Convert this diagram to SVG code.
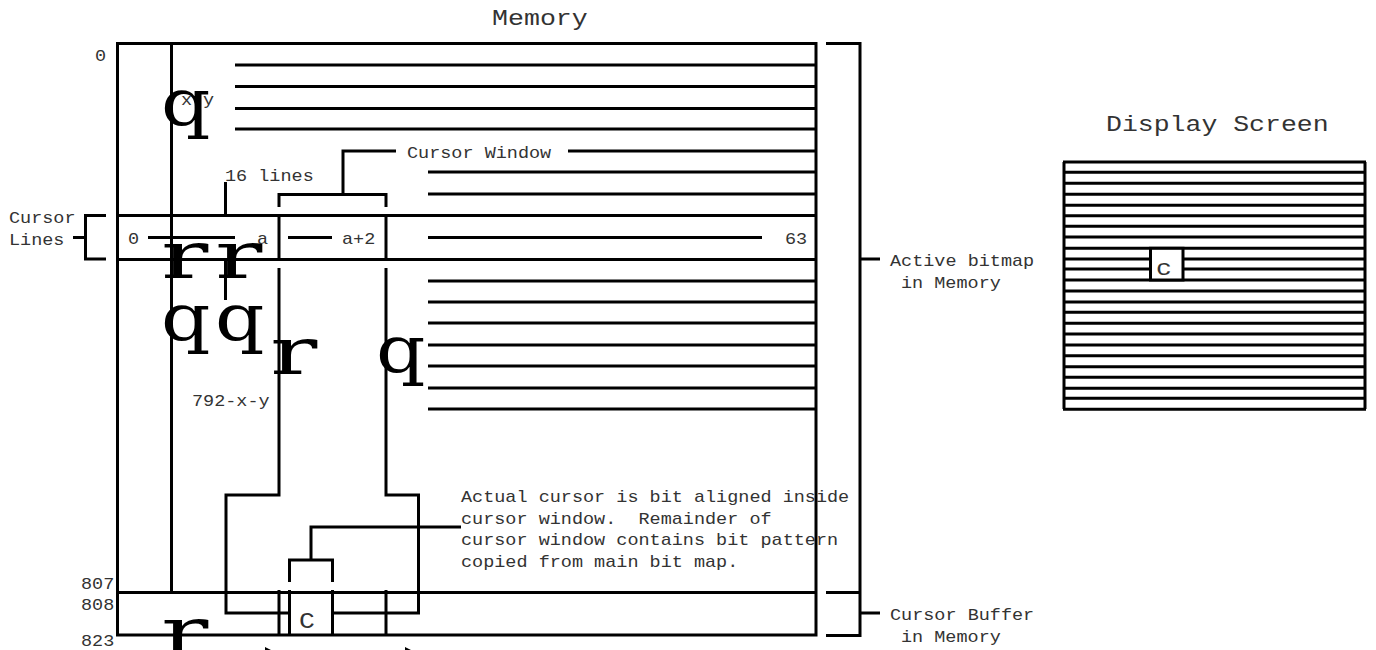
<svg xmlns="http://www.w3.org/2000/svg" width="1376" height="650" viewBox="0 0 1376 650">
<style>
.l{stroke:#000;stroke-width:3;fill:none}
text{font-family:"Liberation Mono",monospace;fill:#333;white-space:pre}
.s{font-size:16px}
.m{font-size:22px}
.b{font-family:"DejaVu Serif",serif;font-size:66px;fill:#000}
</style>
<rect width="1376" height="650" fill="#fff"/>
<g id="connectors">
<path class="l" d="M117.500 43.500H816V635H117.500Z"/>
<path class="l" d="M235 65H816M235 86.500H816M235 108.500H816M235 129H816M568 151H816M428 172H816M428 194H816M428 281H816M428 302H816M428 323H816M428 345H816M428 366H816M428 388H816M428 409H816"/>
<path class="l" d="M117 215.500H816M117 259.500H816M117 592.500H816"/>
<path class="l" d="M171.500 43V592M148 237.500H235M288 237.500H332M428 237.500H762"/>
<path class="l" d="M225.500 182V215M225.500 258V300M279 207V194.500H386V207M343 194V151H396"/>
<path class="l" d="M279 215V259M386 215V259M279 268V495H226V613H289M386 268V495H418.500V613H333"/>
<path class="l" d="M311 560V527H461M289.500 582V560H332.500V582M279 590V635M289.500 590V635M332.500 590V635M386 590V635"/>
<path class="l" d="M106 215.500H85.500V259H106M73 237.500H85.500"/>
<path class="l" d="M826 43.500H860V592M826 592.500H860V635.500H826M860 259H880M860 613H880"/>
<path d="M265 647V650H271ZM405 647V650H411Z" fill="#000"/>
</g>
<g id="screen">
<path class="l" d="M1064 162V409M1365 162V409M1063 162H1366M1063 172.300H1366M1063 183.300H1366M1063 194.300H1366M1063 205.300H1366M1063 215.700H1366M1063 226.300H1366M1063 237H1366M1063 248.300H1366M1063 259H1366M1063 269H1366M1063 280H1366M1063 291H1366M1063 302H1366M1063 312.300H1366M1063 323.300H1366M1063 334H1366M1063 345H1366M1063 355.700H1366M1063 366.700H1366M1063 377.300H1366M1063 388.300H1366M1063 398.300H1366M1063 409.300H1366"/>
<rect x="1150.500" y="248.300" width="32.500" height="31.700" fill="#fff" stroke="#000" stroke-width="3"/>
<text class="m" transform="translate(1156 275) scale(1.2 1)">c</text>
</g>
<g id="labels">
<text class="m" transform="translate(492 25) scale(1.21 1)">Memory</text>
<text class="m" transform="translate(1106 131) scale(1.205 1)">Display Screen</text>
<text class="s" transform="translate(95 61) scale(1.156 1)">0</text>
<text class="s" transform="translate(181 105) scale(1.156 1)">x</text>
<text class="s" transform="translate(203 105) scale(1.156 1)">y</text>
<text class="s" transform="translate(225 181) scale(1.156 1)">16 lines</text>
<text class="s" transform="translate(407 158) scale(1.156 1)">Cursor Window</text>
<text class="s" transform="translate(128 244) scale(1.156 1)">0</text>
<text class="s" transform="translate(257 244) scale(1.156 1)">a</text>
<text class="s" transform="translate(342 244) scale(1.156 1)">a+2</text>
<text class="s" transform="translate(785 244) scale(1.156 1)">63</text>
<text class="s" transform="translate(9 223) scale(1.156 1)">Cursor</text>
<text class="s" transform="translate(9 245) scale(1.156 1)">Lines</text>
<text class="s" transform="translate(192 406) scale(1.156 1)">792-x-y</text>
<text class="s" transform="translate(890 266) scale(1.156 1)">Active bitmap</text>
<text class="s" transform="translate(901 288) scale(1.156 1)">in Memory</text>
<text class="s" transform="translate(461 502) scale(1.156 1)">Actual cursor is bit aligned inside</text>
<text class="s" transform="translate(461 524) scale(1.156 1)">cursor window.  Remainder of</text>
<text class="s" transform="translate(461 545) scale(1.156 1)">cursor window contains bit pattern</text>
<text class="s" transform="translate(461 567) scale(1.156 1)">copied from main bit map.</text>
<text class="s" transform="translate(81 589) scale(1.156 1)">807</text>
<text class="s" transform="translate(81 610) scale(1.156 1)">808</text>
<text class="s" transform="translate(81 646) scale(1.156 1)">823</text>
<text class="s" transform="translate(890 620) scale(1.156 1)">Cursor Buffer</text>
<text class="s" transform="translate(901 642) scale(1.156 1)">in Memory</text>
<text class="m" transform="translate(299 628) scale(1.2 1)">C</text>
</g>
<g id="glyphs">
<text class="b" transform="translate(161 125) scale(1.17 1)">q</text>
<text class="b" transform="translate(161 340) scale(1.17 1)">q</text>
<text class="b" transform="translate(215 340) scale(1.17 1)">q</text>
<text class="b" transform="translate(376 372) scale(1.17 1)">q</text>
<text class="b" transform="translate(161 278) scale(1.5 1)">r</text>
<text class="b" transform="translate(215 278) scale(1.5 1)">r</text>
<text class="b" transform="translate(270 374) scale(1.5 1)">r</text>
<text class="b" transform="translate(161 654) scale(1.5 1)">r</text>
</g>
</svg>
